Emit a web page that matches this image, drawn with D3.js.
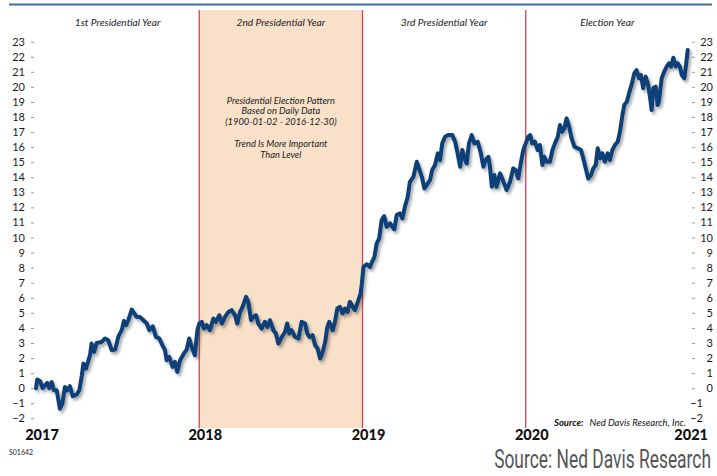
<!DOCTYPE html>
<html>
<head>
<meta charset="utf-8">
<script src="https://cdn.jsdelivr.net/npm/d3@7"></script>
<style>
  body { margin: 0; background: #fff; }
  svg { display: block; font-family: Lato, "Open Sans", sans-serif; }
</style>
</head>
<body>
<svg id="chart" width="717" height="476"></svg>
<script>
// cycle position in weeks (0..208) and pattern level
var year1 = [[0,0.0],[0.4,0.57],[1.3,0.48],[2.1,0.0],[2.9,0.19],[3.6,0.35],[4.2,0.0],[5.0,0.41],[5.7,-0.14],[6.6,-0.14],
  [7.6,-1.36],[8.4,-1.02],[9.2,0.08],[10.0,-0.14],[10.8,0.13],[11.7,-0.54],[13.0,-0.41],[13.8,-0.14],[14.6,0.86],[15.1,1.63],
  [15.9,1.30],[17.2,2.19],[17.7,2.96],[18.5,2.41],[19.3,3.0],[20.9,3.07],[22.0,3.30],[23.0,3.18],[24.1,2.52],[25.2,2.56],
  [26.2,3.40],[27.3,3.85],[28.0,4.47],[28.7,4.18],[29.4,4.51],[30.5,5.22],[31.2,5.0],[32.1,4.73],[33.1,4.73],[34.2,4.51],
  [35.3,4.29],[36.1,3.85],[37.2,4.11],[38.2,3.40],[39.3,3.30],[40.0,2.96],[41.1,2.52],[41.6,1.85],[42.5,2.07],[43.5,1.41],
  [44.3,1.74],[45.0,1.08],[45.9,1.85],[47.1,2.30],[48.0,2.56],[48.8,3.30],[49.6,2.74],[50.6,2.19],[51.4,3.85]];
var year2 = [[52.0,4.29],[52.8,4.40],[53.5,3.96],[54.4,4.18],[55.4,3.85],[56.5,4.62],[57.3,4.40],[58.4,4.84],[59.2,4.29],
  [60.2,4.73],[61.3,5.06],[62.3,5.18],[63.4,4.84],[64.1,4.29],[65.0,5.06],[65.8,5.40],[66.9,6.06],[67.6,5.73],[68.5,4.51],
  [69.2,4.73],[70.1,4.84],[70.8,4.29],[71.9,3.96],[72.9,4.40],[73.7,4.07],[74.5,4.51],[75.6,3.85],[76.4,3.63],[77.2,2.96],
  [78.3,3.40],[79.3,3.73],[80.0,4.29],[80.7,3.63],[81.4,3.85],[82.5,3.40],[83.6,3.30],[84.6,4.40],[85.7,4.29],[86.4,3.63],
  [87.1,3.40],[88.1,3.52],[88.9,2.85],[89.7,2.63],[90.5,1.97],[91.3,2.41],[92.1,3.07],[92.8,4.07],[93.4,4.40],[94.5,3.85],
  [95.2,4.40],[96.0,5.29],[96.8,5.40],[97.7,4.96],[98.4,5.29],[99.2,5.06],[100.0,5.73],[100.9,5.40],[101.6,5.18],[102.7,5.84],
  [103.4,6.29]];
var year3 = [[103.8,6.95],[104.3,8.05],[105.3,8.23],[106.4,8.05],[106.9,8.32],[107.8,8.72],[108.5,9.6],[109.3,9.94],[110.1,11.16],
  [110.9,11.42],[111.7,10.71],[112.8,10.94],[114.1,10.54],[114.9,11.49],[115.9,11.60],[116.7,11.27],[117.5,12.04],[118.4,12.70],
  [119.1,13.70],[120.2,14.03],[121.3,15.03],[122.0,14.59],[122.9,14.03],[123.7,13.26],[124.8,13.59],[125.5,13.81],[126.2,14.48],
  [127.1,14.81],[128.0,15.59],[128.7,15.14],[129.4,16.25],[130.3,16.69],[131.3,16.80],[132.6,16.80],[133.5,16.36],[134.3,15.59],
  [135.1,14.70],[135.8,15.81],[136.7,15.14],[137.2,14.92],[137.9,16.25],[138.8,16.80],[139.6,16.25],[140.7,16.36],[141.7,15.59],
  [142.5,14.70],[143.2,15.14],[144.1,15.36],[144.6,14.70],[145.2,13.37],[146.0,14.15],[146.7,13.37],[147.8,14.26],[148.9,13.70],
  [149.9,13.15],[151.0,13.70],[152.0,14.59],[152.8,14.48],[153.6,13.92],[154.5,15.03],[155.2,15.81]];
var year4 = [[156.0,16.25],[156.8,16.69],[157.4,16.80],[158.1,16.25],[158.9,16.36],[159.8,15.81],[160.5,16.14],[161.3,14.81],
  [161.9,15.36],[162.7,15.03],[163.7,15.03],[164.5,15.81],[165.3,16.25],[166.2,16.69],[166.9,17.47],[167.6,17.02],[168.3,17.25],
  [169.0,17.91],[169.8,17.36],[170.6,16.58],[171.5,16.03],[172.6,15.92],[173.6,15.81],[174.3,15.26],[175.1,14.59],[175.9,13.92],
  [176.8,14.15],[177.5,14.59],[178.3,14.81],[178.9,15.92],[179.7,15.26],[180.4,15.59],[181.2,15.03],[182.1,15.59],[182.8,15.14],
  [183.6,15.81],[184.4,16.14],[185.3,16.36],[186.0,17.02],[186.8,18.13],[187.4,18.80],[188.2,19.02],[188.9,19.57],[189.7,20.13],
  [190.6,20.91],[191.3,21.12],[192.1,20.57],[192.7,20.79],[193.4,19.91],[194.2,20.68],[195.0,20.13],[195.7,19.13],[196.1,18.46],
  [196.6,19.91],[197.4,20.02],[198.0,18.80],[198.4,19.02],[199.3,20.57],[200.1,21.01],[200.9,21.35],[201.6,21.57],[202.3,21.35],
  [203.0,21.94],[203.8,21.35],[204.4,21.57],[205.1,21.35],[205.7,20.79],[206.5,20.57],[207.0,21.35],[207.6,22.45]];

var yearStarts = [0, 52, 104, 156, 208];
var yearLabels = ["2017", "2018", "2019", "2020", "2021"];
var phaseLabels = ["1st Presidential Year", "2nd Presidential Year", "3rd Presidential Year", "Election Year"];
var noteLines = ["Presidential Election Pattern", "Based on Daily Data", "(1900-01-02 - 2016-12-30)", "", "Trend Is More Important", "Than Level"];
var yTicks = d3.range(-2, 24);

var svg = d3.select("#chart");
var x = d3.scaleLinear().domain([0, 208]).range([36, 689]);
var y = d3.scaleLinear().domain([-2, 23]).range([418.3, 41.7]);
var plotTop = 10, plotBottom = 428;

var defs = svg.append("defs");
var f = defs.append("filter").attr("id", "shadow").attr("x", "-5%").attr("y", "-5%").attr("width", "110%").attr("height", "115%");
f.append("feDropShadow").attr("dx", 2).attr("dy", 2.5).attr("stdDeviation", 1.4)
  .attr("flood-color", "#000").attr("flood-opacity", 0.35);

// top rule
svg.append("line").attr("x1", 9).attr("x2", 712).attr("y1", 4.5).attr("y2", 4.5)
  .attr("stroke", "#3d6fa6").attr("stroke-width", 2);

// 2nd year shading
svg.append("rect")
  .attr("x", x(yearStarts[1])).attr("y", plotTop)
  .attr("width", x(yearStarts[2]) - x(yearStarts[1])).attr("height", plotBottom - plotTop)
  .attr("fill", "#f9e1c9");

// year dividers
svg.selectAll(".divider").data(yearStarts.slice(1, 4)).enter().append("line")
  .attr("class", "divider")
  .attr("x1", d => x(d)).attr("x2", d => x(d))
  .attr("y1", plotTop).attr("y2", plotBottom)
  .attr("stroke", "#d9414d").attr("stroke-width", 1.3);

// phase headers
svg.selectAll(".phase").data(phaseLabels).enter().append("text")
  .attr("class", "phase")
  .attr("x", (d, i) => (x(yearStarts[i]) + x(yearStarts[i + 1])) / 2)
  .attr("y", 26)
  .attr("text-anchor", "middle")
  .attr("font-size", 10.2).attr("font-style", "italic").attr("fill", "#222")
  .text(d => d);

// note
var nx = (x(yearStarts[1]) + x(yearStarts[2])) / 2;
svg.append("g").selectAll("text").data(noteLines).enter().append("text")
  .attr("x", nx).attr("y", (d, i) => 103.5 + i * 10.8)
  .attr("text-anchor", "middle")
  .attr("font-size", 9.3).attr("font-style", "italic").attr("fill", "#222")
  .text(d => d);

// axes
var left = svg.append("g").attr("transform", "translate(34,0)")
  .call(d3.axisLeft(y).tickValues(yTicks).tickSize(3).tickPadding(6).tickFormat(d3.format("d")));
var right = svg.append("g").attr("transform", "translate(692,0)")
  .call(d3.axisRight(y).tickValues(yTicks).tickSize(3).tickFormat(d3.format("d")));
[left, right].forEach(function(g) {
  g.select(".domain").remove();
  g.selectAll(".tick line").attr("stroke", "#999");
  g.selectAll(".tick text").attr("fill", "#1a1a1a").attr("font-size", 11)
    .attr("font-family", "Lato, sans-serif");
});
right.selectAll(".tick text").attr("text-anchor", "end").attr("x", d => d < 0 ? 11 : 21);

// year labels
svg.selectAll(".yr").data(yearLabels).enter().append("text")
  .attr("class", "yr")
  .attr("x", (d, i) => i == 4 ? 708 : x(yearStarts[i]) + 6)
  .attr("y", 440)
  .attr("text-anchor", (d, i) => i == 4 ? "end" : "middle")
  .attr("font-size", 14.5).attr("font-weight", 900).attr("fill", "#111")
  .text(d => d);

// pattern line
var line = d3.line().x(d => x(d[0])).y(d => y(d[1]));
var all = year1.concat(year2, year3, year4);
svg.append("path").datum(all)
  .attr("d", line)
  .attr("fill", "none")
  .attr("stroke", "#0d3f78")
  .attr("stroke-width", 4)
  .attr("stroke-linejoin", "round")
  .attr("stroke-linecap", "round")
  .attr("filter", "url(#shadow)");

// source inside plot
var src = svg.append("text").attr("x", 554).attr("y", 426)
  .attr("font-size", 9.5).attr("font-style", "italic").attr("fill", "#111");
src.append("tspan").attr("font-weight", 700).text("Source:");
src.append("tspan").attr("dx", 6).text("Ned Davis Research, Inc.");

svg.append("text").attr("x", 9).attr("y", 455)
  .attr("font-size", 7).attr("fill", "#222").text("S01642");

// big footer, squeezed horizontally to fit like a condensed face
var foot = svg.append("g");
var ft = foot.append("text").attr("x", 0).attr("y", 0)
  .attr("text-anchor", "end")
  .attr("font-size", 26).attr("fill", "#555")
  .attr("font-family", "'Liberation Sans Narrow', Roboto, sans-serif")
  .text("Source: Ned Davis Research");
var sx = Math.min(1, 217 / ft.node().getComputedTextLength());
foot.attr("transform", "translate(711,468) scale(" + sx + ",1)");
</script>
</body>
</html>
